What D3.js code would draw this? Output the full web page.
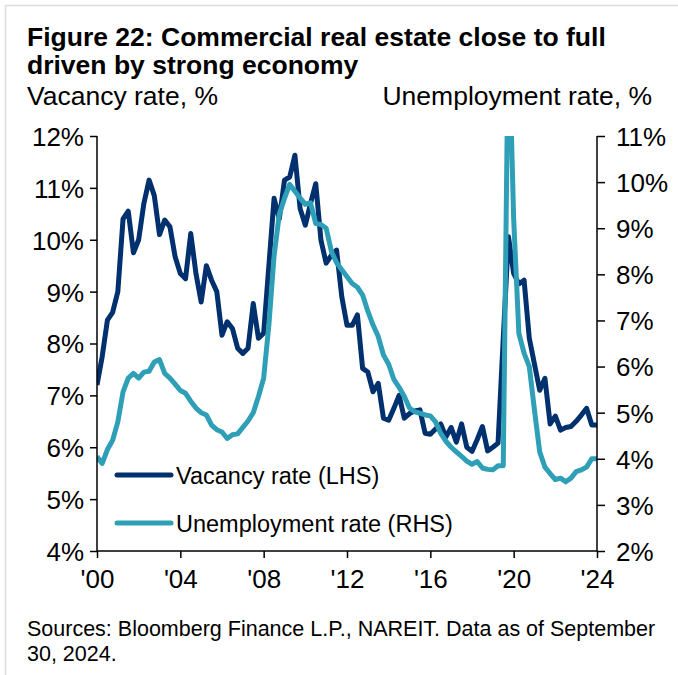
<!DOCTYPE html>
<html>
<head>
<meta charset="utf-8">
<script src="https://cdn.jsdelivr.net/npm/d3@7"></script>
<style>
  body { margin: 0; background: #fff; }
  svg { font-family: "Liberation Sans", Arial, sans-serif; }
</style>
</head>
<body>
<div id="chart"></div>
<script>
// quarterly points, 2000 to 2024
const startYear = 2000;
const vacancy = [
  7.2, 7.75, 8.45, 8.6, 9.0, 10.4, 10.55, 9.75, 10.0, 10.7,
  11.15, 10.85, 10.1, 10.38, 10.25, 9.67, 9.35, 9.25, 10.12, 9.35,
  8.8, 9.5, 9.22, 9.0, 8.16, 8.42, 8.29, 7.91, 7.81, 7.91,
  8.77, 8.1, 8.2, 9.5, 10.8, 10.4, 11.15, 11.21, 11.63, 10.6,
  10.28, 10.7, 11.08, 9.99, 9.55, 9.7, 9.8, 8.9, 8.35, 8.35,
  8.55, 7.52, 7.45, 7.07, 7.23, 6.56, 6.52, 6.75, 7.0, 6.56,
  6.65, 6.7, 6.72, 6.27, 6.25, 6.35, 6.45, 6.2, 6.38, 6.1,
  6.45, 6.0, 5.92, 6.15, 6.4, 5.93, 6.0, 6.08, 8.1, 10.06,
  9.35, 9.15, 9.22, 8.1, 7.6, 7.1, 7.33, 6.45, 6.6, 6.33,
  6.38, 6.4, 6.5, 6.62, 6.75, 6.43, 6.43
];
const unemployment = [
  4.05, 3.9, 4.2, 4.4, 4.8, 5.45, 5.75, 5.85, 5.75, 5.88,
  5.9, 6.1, 6.15, 5.85, 5.75, 5.62, 5.48, 5.42, 5.25, 5.1,
  5.0, 4.95, 4.73, 4.63, 4.58, 4.44, 4.52, 4.54, 4.68, 4.82,
  5.0, 5.35, 5.75, 6.9, 8.4, 9.3, 9.65, 9.95, 9.8, 9.65,
  9.52, 9.55, 9.1, 9.08, 9.0, 8.5, 8.25, 8.1, 7.95, 7.8,
  7.72, 7.55, 7.2, 6.9, 6.65, 6.25, 6.05, 5.72, 5.55, 5.35,
  5.1, 5.02, 4.99, 4.95, 4.93, 4.8, 4.55, 4.38, 4.25, 4.15,
  4.05, 3.95, 3.88, 3.94, 3.8, 3.77, 3.76, 3.85, 3.85, 13.5,
  9.2, 6.72, 6.29, 6.0, 5.05, 4.15, 3.82, 3.68, 3.55, 3.58,
  3.5, 3.58, 3.72, 3.76, 3.82, 4.0, 4.0
];
const xTickYears = [2000, 2004, 2008, 2012, 2016, 2020, 2024];
const leftTicks = [4, 5, 6, 7, 8, 9, 10, 11, 12];
const rightTicks = [2, 3, 4, 5, 6, 7, 8, 9, 10, 11];
const seriesNames = ["Vacancy rate (LHS)", "Unemployment rate (RHS)"];
const colors = ["#00306e", "#2e9fb6"];

const width = 678, height = 675;
const margin = { top: 136, right: 81, bottom: 124, left: 97 };
const plotW = width - margin.left - margin.right,
  plotH = height - margin.top - margin.bottom;

const svg = d3.select("#chart")
  .append("svg")
  .attr("width", width)
  .attr("height", height);

// light frame at left and top
svg.append("path")
  .attr("d", "M5.5,675V5.5H678")
  .attr("fill", "none")
  .attr("stroke", "#dcdcdc")
  .attr("stroke-width", 1.5);

const x = d3.scaleLinear()
  .domain([startYear, 2024])
  .range([margin.left, margin.left + plotW]);
const yL = d3.scaleLinear()
  .domain([4, 12])
  .range([margin.top + plotH, margin.top]);
const yR = d3.scaleLinear()
  .domain([2, 11])
  .range([margin.top + plotH, margin.top]);

// titles
svg.append("text")
  .attr("x", 27).attr("y", 46)
  .attr("font-size", "26.5px").attr("font-weight", "bold")
  .text("Figure 22: Commercial real estate close to full");
svg.append("text")
  .attr("x", 27).attr("y", 74)
  .attr("font-size", "26.5px").attr("font-weight", "bold")
  .text("driven by strong economy");
svg.append("text")
  .attr("x", 27).attr("y", 105)
  .attr("font-size", "26.5px")
  .text("Vacancy rate, %");
svg.append("text")
  .attr("x", 652).attr("y", 105)
  .attr("text-anchor", "end")
  .attr("font-size", "26.5px")
  .text("Unemployment rate, %");

// clip plot
svg.append("clipPath").attr("id", "plotClip")
  .append("rect")
  .attr("x", margin.left).attr("y", margin.top)
  .attr("width", plotW + 2).attr("height", plotH);

const line = (yScale) => d3.line()
  .x((d, i) => x(startYear + i / 4))
  .y(d => yScale(d));

const plot = svg.append("g").attr("clip-path", "url(#plotClip)");

plot.append("path")
  .datum(vacancy)
  .attr("fill", "none")
  .attr("stroke", colors[0])
  .attr("stroke-width", 5)
  .attr("stroke-linejoin", "round")
  .attr("d", line(yL));

plot.append("path")
  .datum(unemployment)
  .attr("fill", "none")
  .attr("stroke", colors[1])
  .attr("stroke-width", 5)
  .attr("stroke-linejoin", "round")
  .attr("d", line(yR));

// axes
const pct = d => d + "%";

const gL = svg.append("g")
  .attr("transform", `translate(${margin.left},0)`)
  .call(d3.axisLeft(yL).tickValues(leftTicks).tickFormat(pct).tickSize(7).tickPadding(6));
const gR = svg.append("g")
  .attr("transform", `translate(${margin.left + plotW},0)`)
  .call(d3.axisRight(yR).tickValues(rightTicks).tickFormat(pct).tickSize(8).tickPadding(11));
const gX = svg.append("g")
  .attr("transform", `translate(0,${margin.top + plotH})`)
  .call(d3.axisBottom(x).tickValues(xTickYears)
    .tickFormat(d => "'" + String(d).slice(2)).tickSize(7).tickPadding(12));

[gL, gR, gX].forEach(g => {
  g.selectAll(".domain").attr("stroke", "#000").attr("stroke-width", 1.5);
  g.selectAll(".tick line").attr("stroke", "#000").attr("stroke-width", 1.5);
  g.selectAll(".tick text")
    .attr("fill", "#000")
    .attr("font-size", "26px")
    .attr("font-family", "Liberation Sans, Arial, sans-serif");
});
gL.select(".domain").attr("d", `M0,${margin.top}V${margin.top + plotH}`);
gR.select(".domain").attr("d", `M0,${margin.top}V${margin.top + plotH}`);
gX.select(".domain").attr("d", `M${margin.left},0H${margin.left + plotW}`);
gL.selectAll(".tick text").attr("dy", "0.36em");
gR.selectAll(".tick text").attr("dy", "0.36em");

// legend
const legend = svg.append("g");
seriesNames.forEach((name, i) => {
  const ly = 475 + i * 48;
  legend.append("line")
    .attr("x1", 117).attr("x2", 171)
    .attr("y1", ly).attr("y2", ly)
    .attr("stroke", colors[i]).attr("stroke-width", 5)
    .attr("stroke-linecap", "round");
  legend.append("text")
    .attr("x", 176).attr("y", ly + 8.5)
    .attr("font-size", "23.5px")
    .text(name);
});

// source note
svg.append("text")
  .attr("x", 27).attr("y", 636)
  .attr("font-size", "21.5px")
  .text("Sources: Bloomberg Finance L.P., NAREIT. Data as of September");
svg.append("text")
  .attr("x", 27).attr("y", 661)
  .attr("font-size", "21.5px")
  .text("30, 2024.");
</script>
</body>
</html>
